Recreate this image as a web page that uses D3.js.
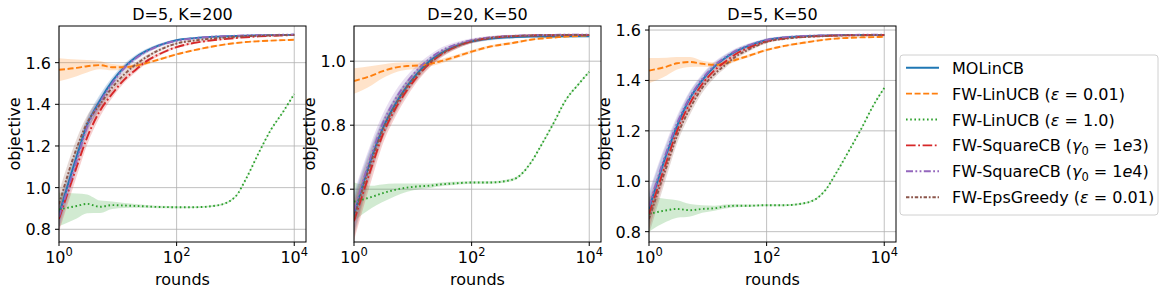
<!DOCTYPE html>
<html>
<head>
<meta charset="utf-8">
<script src="https://cdn.jsdelivr.net/npm/d3@7"></script>
<style>
  html, body { margin: 0; padding: 0; background: #fff; }
  svg { display: block; font-family: "DejaVu Sans", sans-serif; }
</style>
</head>
<body>
<div id="chart"></div>
<script>
// x values shared by every curve
const rounds = [1, 2, 3, 5, 8, 13, 20, 30, 50, 100, 200, 500, 1000, 1500, 2500, 4000, 6500, 10000];

// panel 1: D=5, K=200
const a_molincb   = [0.87, 1.15, 1.30, 1.42, 1.51, 1.58, 1.625, 1.655, 1.683, 1.708, 1.718, 1.725, 1.728, 1.730, 1.731, 1.732, 1.733, 1.734];
const a_linucb001 = [1.566, 1.575, 1.583, 1.588, 1.578, 1.578, 1.585, 1.597, 1.615, 1.640, 1.660, 1.682, 1.694, 1.699, 1.703, 1.706, 1.708, 1.710];
const a_linucb1   = [0.895, 0.912, 0.922, 0.908, 0.916, 0.914, 0.912, 0.910, 0.907, 0.906, 0.906, 0.915, 0.957, 1.040, 1.168, 1.277, 1.365, 1.450];
const a_sqcb1e3   = [0.85, 1.10, 1.24, 1.37, 1.45, 1.52, 1.565, 1.605, 1.640, 1.675, 1.695, 1.710, 1.718, 1.722, 1.726, 1.729, 1.731, 1.733];
const a_sqcb1e4   = [0.86, 1.13, 1.29, 1.41, 1.50, 1.575, 1.62, 1.652, 1.681, 1.705, 1.717, 1.726, 1.729, 1.731, 1.732, 1.733, 1.734, 1.735];
const a_epsgreedy = [0.92, 1.19, 1.31, 1.40, 1.48, 1.545, 1.59, 1.625, 1.66, 1.692, 1.706, 1.718, 1.724, 1.727, 1.729, 1.731, 1.732, 1.733];
const a_sd_cb     = [0.06, 0.045, 0.035, 0.028, 0.02, 0.015, 0.012, 0.01, 0.008, 0.006, 0.005, 0.004, 0.004, 0.003, 0.003, 0.003, 0.003, 0.003];
const a_sd_ucb001 = [0.055, 0.04, 0.03, 0.02, 0.015, 0.012, 0.01, 0.008, 0.006, 0.005, 0.004, 0.004, 0.003, 0.003, 0.003, 0.003, 0.003, 0.003];
const a_sd_ucb1   = [0.08, 0.06, 0.045, 0.03, 0.018, 0.012, 0.009, 0.007, 0.006, 0.005, 0.004, 0.004, 0.004, 0.004, 0.004, 0.004, 0.004, 0.004];

// panel 2: D=20, K=50
const b_molincb   = [0.52, 0.70, 0.785, 0.865, 0.922, 0.97, 1.003, 1.025, 1.045, 1.062, 1.070, 1.075, 1.077, 1.077, 1.077, 1.078, 1.078, 1.078];
const b_linucb001 = [0.938, 0.955, 0.968, 0.98, 0.985, 0.987, 0.992, 1.0, 1.012, 1.03, 1.045, 1.057, 1.067, 1.071, 1.074, 1.077, 1.079, 1.080];
const b_linucb1   = [0.561, 0.576, 0.587, 0.598, 0.605, 0.609, 0.611, 0.615, 0.618, 0.621, 0.621, 0.630, 0.681, 0.735, 0.808, 0.879, 0.927, 0.967];
const b_sqcb1e3   = [0.50, 0.67, 0.765, 0.85, 0.91, 0.96, 0.995, 1.02, 1.042, 1.062, 1.072, 1.078, 1.080, 1.081, 1.081, 1.082, 1.082, 1.082];
const b_sqcb1e4   = [0.53, 0.71, 0.80, 0.88, 0.935, 0.98, 1.01, 1.032, 1.05, 1.066, 1.074, 1.079, 1.081, 1.082, 1.082, 1.083, 1.083, 1.083];
const b_epsgreedy = [0.51, 0.69, 0.78, 0.86, 0.92, 0.965, 0.998, 1.022, 1.043, 1.062, 1.072, 1.078, 1.080, 1.081, 1.081, 1.082, 1.082, 1.082];
const b_sd_cb     = [0.06, 0.04, 0.03, 0.025, 0.02, 0.015, 0.012, 0.01, 0.008, 0.006, 0.005, 0.004, 0.004, 0.003, 0.003, 0.003, 0.003, 0.003];
const b_sd_ucb001 = [0.04, 0.03, 0.022, 0.015, 0.012, 0.01, 0.008, 0.007, 0.006, 0.005, 0.004, 0.004, 0.003, 0.003, 0.003, 0.003, 0.003, 0.003];
const b_sd_ucb1   = [0.06, 0.035, 0.028, 0.02, 0.013, 0.009, 0.007, 0.006, 0.005, 0.004, 0.004, 0.004, 0.004, 0.004, 0.004, 0.004, 0.004, 0.004];

// panel 3: D=5, K=50
const c_molincb   = [0.89, 1.11, 1.22, 1.33, 1.40, 1.455, 1.49, 1.515, 1.538, 1.560, 1.570, 1.576, 1.578, 1.579, 1.580, 1.580, 1.580, 1.580];
const c_linucb001 = [1.439, 1.455, 1.468, 1.473, 1.466, 1.462, 1.468, 1.482, 1.498, 1.521, 1.537, 1.552, 1.562, 1.566, 1.569, 1.571, 1.572, 1.573];
const c_linucb1   = [0.87, 0.885, 0.89, 0.885, 0.89, 0.893, 0.90, 0.903, 0.903, 0.905, 0.905, 0.916, 0.965, 1.03, 1.12, 1.205, 1.30, 1.37];
const c_sqcb1e3   = [0.87, 1.08, 1.20, 1.31, 1.385, 1.44, 1.475, 1.505, 1.53, 1.555, 1.567, 1.574, 1.577, 1.578, 1.579, 1.580, 1.580, 1.580];
const c_sqcb1e4   = [0.90, 1.12, 1.23, 1.335, 1.405, 1.46, 1.493, 1.518, 1.54, 1.561, 1.571, 1.577, 1.579, 1.580, 1.580, 1.581, 1.581, 1.581];
const c_epsgreedy = [0.85, 1.06, 1.18, 1.29, 1.37, 1.425, 1.462, 1.495, 1.523, 1.553, 1.565, 1.573, 1.576, 1.578, 1.579, 1.579, 1.580, 1.580];
const c_sd_cb     = [0.06, 0.04, 0.03, 0.025, 0.02, 0.015, 0.012, 0.01, 0.008, 0.006, 0.005, 0.004, 0.004, 0.003, 0.003, 0.003, 0.003, 0.003];
const c_sd_ucb001 = [0.05, 0.035, 0.025, 0.02, 0.012, 0.01, 0.008, 0.007, 0.006, 0.005, 0.004, 0.004, 0.003, 0.003, 0.003, 0.003, 0.003, 0.003];
const c_sd_ucb1   = [0.07, 0.045, 0.035, 0.025, 0.015, 0.01, 0.008, 0.006, 0.005, 0.004, 0.004, 0.004, 0.004, 0.004, 0.004, 0.004, 0.004, 0.004];

const titles = ["D=5, K=200", "D=20, K=50", "D=5, K=50"];
const yTicks = [[0.8, 1.0, 1.2, 1.4, 1.6], [0.6, 0.8, 1.0], [0.8, 1.0, 1.2, 1.4, 1.6]];
const xTicks = [1, 100, 10000];
const xTickExp = ["0", "2", "4"];

// legend entries (order matters for drawing too)
const methods = ["MOLinCB", "FW-LinUCB 0.01", "FW-LinUCB 1.0", "FW-SquareCB 1e3", "FW-SquareCB 1e4", "FW-EpsGreedy 0.01"];
const colors = ["#1f77b4", "#ff7f0e", "#2ca02c", "#d62728", "#9467bd", "#8c564b"];
const dashes = [null, "6,2.6", "1.6,2.6", "9.6,2.6,1.8,2.6", "7,2.4,1.8,2.4,1.8,2.4", "3.4,1.8,1.8,1.8"];

const means = [
  [a_molincb, a_linucb001, a_linucb1, a_sqcb1e3, a_sqcb1e4, a_epsgreedy],
  [b_molincb, b_linucb001, b_linucb1, b_sqcb1e3, b_sqcb1e4, b_epsgreedy],
  [c_molincb, c_linucb001, c_linucb1, c_sqcb1e3, c_sqcb1e4, c_epsgreedy]
];
const spreads = [
  [a_sd_cb, a_sd_ucb001, a_sd_ucb1, a_sd_cb, a_sd_cb, a_sd_cb],
  [b_sd_cb, b_sd_ucb001, b_sd_ucb1, b_sd_cb, b_sd_cb, b_sd_cb],
  [c_sd_cb, c_sd_ucb001, c_sd_ucb1, c_sd_cb, c_sd_cb, c_sd_cb]
];

const width = 1164, height = 294;
const panelLeft = [59, 354, 649];
const panelW = 247, panelTop = 26, panelH = 216;
const yDomains = [[0.739, 1.776], [0.435, 1.110], [0.759, 1.616]];

const svg = d3.select("#chart").append("svg")
  .attr("width", width)
  .attr("height", height);

const FS = 16;
const LW = 1.9;

for (let p = 0; p < 3; p++) {
  const x = d3.scaleLog().domain([1, Math.pow(10, 4.2)]).range([0, panelW]);
  const y = d3.scaleLinear().domain(yDomains[p]).range([panelH, 0]);

  const g = svg.append("g").attr("transform", "translate(" + panelLeft[p] + "," + panelTop + ")");

  g.append("clipPath").attr("id", "clip" + p)
    .append("rect").attr("width", panelW).attr("height", panelH);

  // grid
  g.append("g").selectAll("line").data(xTicks).enter().append("line")
    .attr("x1", d => x(d)).attr("x2", d => x(d))
    .attr("y1", 0).attr("y2", panelH)
    .attr("stroke", "#b0b0b0").attr("stroke-width", 0.8);
  g.append("g").selectAll("line").data(yTicks[p]).enter().append("line")
    .attr("x1", 0).attr("x2", panelW)
    .attr("y1", d => y(d)).attr("y2", d => y(d))
    .attr("stroke", "#b0b0b0").attr("stroke-width", 0.8);

  const plot = g.append("g").attr("clip-path", "url(#clip" + p + ")");

  const area = d3.area()
    .x((d, i) => x(rounds[i]))
    .y0(d => y(d[0]))
    .y1(d => y(d[1]))
    .curve(d3.curveMonotoneX);
  const line = d3.line()
    .x((d, i) => x(rounds[i]))
    .y(d => y(d))
    .curve(d3.curveMonotoneX);

  for (let s = 0; s < methods.length; s++) {
    const m = means[p][s], sd = spreads[p][s];
    const band = m.map((v, i) => [v - sd[i], v + sd[i]]);
    plot.append("path")
      .datum(band)
      .attr("d", area)
      .attr("fill", colors[s])
      .attr("fill-opacity", 0.22);
  }
  for (let s = 0; s < methods.length; s++) {
    plot.append("path")
      .datum(means[p][s])
      .attr("d", line)
      .attr("fill", "none")
      .attr("stroke", colors[s])
      .attr("stroke-width", LW)
      .attr("stroke-dasharray", dashes[s]);
  }

  // spines
  g.append("rect")
    .attr("width", panelW).attr("height", panelH)
    .attr("fill", "none").attr("stroke", "#000").attr("stroke-width", 1);

  // y axis ticks + labels
  const yAx = g.append("g");
  yAx.selectAll("line").data(yTicks[p]).enter().append("line")
    .attr("x1", -4).attr("x2", 0)
    .attr("y1", d => y(d)).attr("y2", d => y(d))
    .attr("stroke", "#000");
  yAx.selectAll("text").data(yTicks[p]).enter().append("text")
    .attr("x", -8).attr("y", d => y(d) + 6)
    .attr("text-anchor", "end")
    .attr("font-size", FS)
    .text(d => d3.format(".1f")(d));

  // x axis ticks + labels (10^n)
  const xAx = g.append("g");
  xAx.selectAll("line").data(xTicks).enter().append("line")
    .attr("x1", d => x(d)).attr("x2", d => x(d))
    .attr("y1", panelH).attr("y2", panelH + 4)
    .attr("stroke", "#000");
  xTicks.forEach((t, i) => {
    const tx = xAx.append("text")
      .attr("x", x(t)).attr("y", panelH + 21)
      .attr("text-anchor", "middle")
      .attr("font-size", FS);
    tx.append("tspan").text("10");
    tx.append("tspan").attr("dy", -7).attr("font-size", 11.5).text(xTickExp[i]);
  });

  g.append("text")
    .attr("x", panelW / 2).attr("y", panelH + 43)
    .attr("text-anchor", "middle")
    .attr("font-size", FS)
    .text("rounds");

  g.append("text")
    .attr("transform", "translate(-39," + (panelH / 2) + ") rotate(-90)")
    .attr("text-anchor", "middle")
    .attr("font-size", FS)
    .text("objective");

  g.append("text")
    .attr("x", panelW / 2).attr("y", -6)
    .attr("text-anchor", "middle")
    .attr("font-size", FS)
    .text(titles[p]);
}

// legend
const leg = svg.append("g").attr("transform", "translate(900,55)");
leg.append("rect")
  .attr("width", 258).attr("height", 160)
  .attr("rx", 3)
  .attr("fill", "#fff").attr("fill-opacity", 0.8)
  .attr("stroke", "#d0d0d0");

function legendLabel(t, s) {
  // plain text + mathtext-ish parts
  const parts = [
    [["MOLinCB", null]],
    [["FW-LinUCB (", null], ["ε", "it"], [" = 0.01)", null]],
    [["FW-LinUCB (", null], ["ε", "it"], [" = 1.0)", null]],
    [["FW-SquareCB (", null], ["γ", "it"], ["0", "sub"], [" = 1", null], ["e", "it"], ["3)", null]],
    [["FW-SquareCB (", null], ["γ", "it"], ["0", "sub"], [" = 1", null], ["e", "it"], ["4)", null]],
    [["FW-EpsGreedy (", null], ["ε", "it"], [" = 0.01)", null]]
  ][s];
  let sub = false;
  parts.forEach(([str, kind]) => {
    const ts = t.append("tspan").text(str);
    if (kind === "it") ts.attr("font-style", "italic");
    if (kind === "sub") { ts.attr("dy", 4).attr("font-size", 11.5); sub = true; }
    else if (sub) { ts.attr("dy", -4); sub = false; }
  });
}

methods.forEach((m, s) => {
  const cy = 12.7 + s * 25.9;
  leg.append("line")
    .attr("x1", 6).attr("x2", 39)
    .attr("y1", cy).attr("y2", cy)
    .attr("stroke", colors[s])
    .attr("stroke-width", LW)
    .attr("stroke-dasharray", dashes[s]);
  const t = leg.append("text")
    .attr("x", 52).attr("y", cy + 6)
    .attr("font-size", FS);
  legendLabel(t, s);
});
</script>
</body>
</html>
